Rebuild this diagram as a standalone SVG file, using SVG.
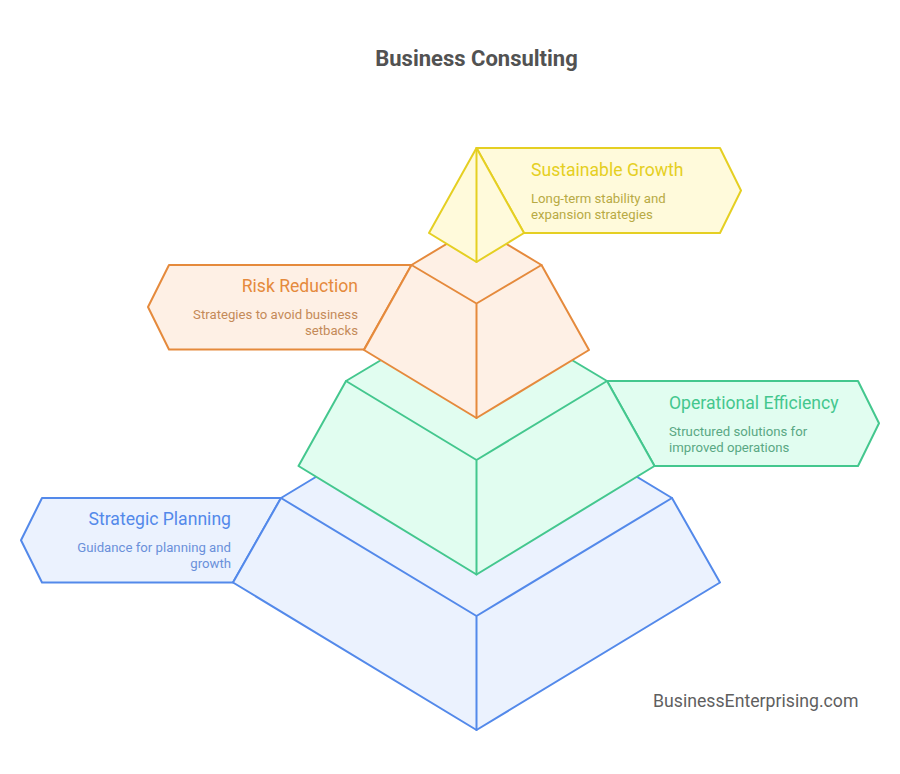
<svg xmlns="http://www.w3.org/2000/svg" width="900" height="774" viewBox="0 0 900 774">
<style>
text{font-family:Roboto,"Liberation Sans",sans-serif}
.s{stroke-width:2;stroke-linejoin:round;stroke-linecap:round}
.t{font-size:17.6px}
.d{font-size:13.2px}
.e{text-anchor:end}
.blue{fill:#ebf2fe;stroke:#5389ea}
.green{fill:#e1fdf0;stroke:#44c78e}
.orange{fill:#fef0e5;stroke:#e58a3c}
.yellow{fill:#fffadb;stroke:#e5cf22}
.line{fill:none}
</style>
<rect width="900" height="774" fill="#ffffff"/>
<text x="476.5" y="66" text-anchor="middle" font-size="22" font-weight="700" fill="#525252" id="title">Business Consulting</text>
<g id="strategic-planning">
<path class="s blue" d="M281 498L42 498L21 540.3L42 582.5L233 582.5Z"/>
<path class="s blue" d="M476.5 380L672 498L720 582.5L476.5 730L233 582.5L281 498Z"/>
<path class="s blue line" d="M281 498L476.5 616L672 498M476.5 616L476.5 730"/>
<text class="t e" x="231" y="525" fill="#5389ea">Strategic Planning</text>
<text class="d e" x="231" y="552" fill="#6a90da">Guidance for planning and</text>
<text class="d e" x="231" y="568" fill="#6a90da">growth</text>
</g>
<g id="operational-efficiency">
<path class="s green" d="M607 381L858 381L879 423.3L858 466L654.5 466Z"/>
<path class="s green" d="M476.5 303L607 381L654.5 466L476.5 574.5L298.5 466L346 381Z"/>
<path class="s green line" d="M346 381L476.500 460L607 381M476.5 460L476.5 574.5"/>
<text class="t" x="669" y="408.5" fill="#44c78e">Operational Efficiency</text>
<text class="d" x="669" y="436" fill="#5aa884">Structured solutions for</text>
<text class="d" x="669" y="452" fill="#5aa884">improved operations</text>
</g>
<g id="risk-reduction">
<path class="s orange" d="M411.5 265L169 265L148 307L169 349.5L364 349.5Z"/>
<path class="s orange" d="M476.5 226L541.5 265L589 350L476.5 418L364 350L411.5 265Z"/>
<path class="s orange line" d="M411.5 265L476.5 303.5L541.500 265M476.5 303.5L476.5 418"/>
<text class="t e" x="358" y="292" fill="#e58a3c">Risk Reduction</text>
<text class="d e" x="358" y="319" fill="#c48a58">Strategies to avoid business</text>
<text class="d e" x="358" y="335" fill="#c48a58">setbacks</text>
</g>
<g id="sustainable-growth">
<path class="s yellow" d="M476.5 148L720 148L741 190.5L720 233L524 233Z"/>
<path class="s yellow" d="M476.5 148L524 233L476.5 262L429 233Z"/>
<path class="s yellow line" d="M476.5 148L476.5 262"/>
<text class="t" x="531" y="175.5" fill="#e5cf22">Sustainable Growth</text>
<text class="d" x="531" y="203" fill="#b8aa44">Long-term stability and</text>
<text class="d" x="531" y="219" fill="#b8aa44">expansion strategies</text>
</g>
<g id="connectors"></g>
<text x="653" y="707" font-size="17.7" fill="#5f5f5f" id="watermark">BusinessEnterprising.com</text>
</svg>
